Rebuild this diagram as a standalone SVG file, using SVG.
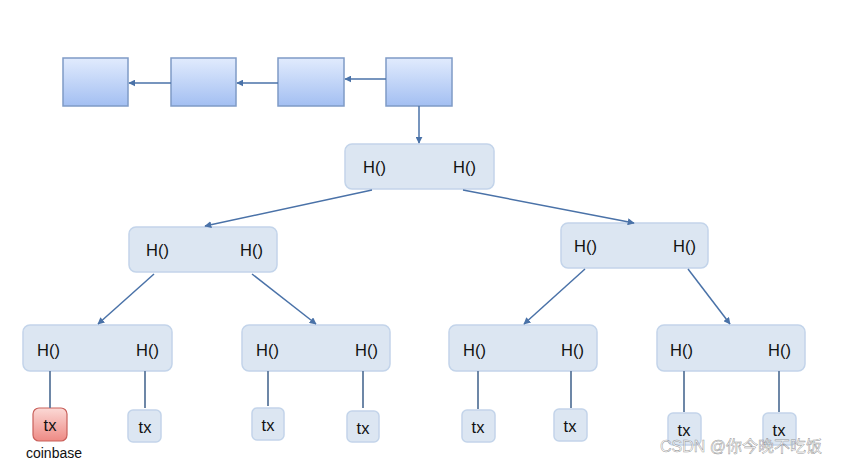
<svg xmlns="http://www.w3.org/2000/svg" width="846" height="467" viewBox="0 0 846 467">
<defs>
<linearGradient id="blk" x1="0" y1="0" x2="0" y2="1">
<stop offset="0" stop-color="#e1ebfd"/>
<stop offset="1" stop-color="#a3bff2"/>
</linearGradient>
<linearGradient id="red" x1="0" y1="0" x2="0" y2="1">
<stop offset="0" stop-color="#fbd9d6"/>
<stop offset="1" stop-color="#ee8a84"/>
</linearGradient>
<marker id="ah" viewBox="0 0 10 10" refX="9" refY="5" markerWidth="7" markerHeight="7" markerUnits="userSpaceOnUse" orient="auto">
<path d="M0,0 L10,5 L0,10 z" fill="#4a72a8"/>
</marker>
<style>
.blk{fill:url(#blk);stroke:#7f9bc6;stroke-width:1.5}
.nd{fill:#dce6f2;stroke:#c3d4ea;stroke-width:1.5}
.tx{fill:#dce6f2;stroke:#c3d4ea;stroke-width:1.5}
.cb{fill:url(#red);stroke:#c9605b;stroke-width:1.2}
.t{font-family:"Liberation Sans",Arial,sans-serif;font-size:16.5px;fill:#111}
.c{stroke:#4a72a8;stroke-width:1.5;fill:none}
.l{stroke:#5e7a9e;stroke-width:1.8;fill:none}
</style>
</defs>
<g id="block1"><rect class="blk" x="63" y="58" width="65" height="48"/></g>
<g id="block2"><rect class="blk" x="171" y="58" width="65" height="48"/></g>
<g id="block3"><rect class="blk" x="278" y="58" width="66" height="48"/></g>
<g id="block4"><rect class="blk" x="386" y="58" width="66" height="48"/></g>
<g id="root"><rect class="nd" x="345" y="144" width="149" height="45" rx="7"/><text class="t" x="363" y="173">H()</text><text class="t" x="453" y="173">H()</text></g>
<g id="l2left"><rect class="nd" x="129" y="227" width="148" height="45" rx="7"/><text class="t" x="146" y="256">H()</text><text class="t" x="240" y="256">H()</text></g>
<g id="l2right"><rect class="nd" x="561" y="223" width="147" height="45" rx="7"/><text class="t" x="574" y="252">H()</text><text class="t" x="673" y="252">H()</text></g>
<g id="l3a"><rect class="nd" x="23" y="325" width="149" height="46" rx="7"/><text class="t" x="37" y="356">H()</text><text class="t" x="136" y="356">H()</text></g>
<g id="l3b"><rect class="nd" x="242" y="325" width="148" height="46" rx="7"/><text class="t" x="256" y="356">H()</text><text class="t" x="355" y="356">H()</text></g>
<g id="l3c"><rect class="nd" x="449" y="325" width="148" height="46" rx="7"/><text class="t" x="463" y="356">H()</text><text class="t" x="561" y="356">H()</text></g>
<g id="l3d"><rect class="nd" x="657" y="325" width="148" height="46" rx="7"/><text class="t" x="670" y="356">H()</text><text class="t" x="768" y="356">H()</text></g>
<g id="tx1"><rect class="cb" x="33" y="408" width="34" height="33" rx="6"/><text class="t" x="50" y="431" text-anchor="middle">tx</text><text x="54" y="458" text-anchor="middle" font-family="Liberation Sans,Arial,sans-serif" font-size="14" fill="#111">coinbase</text></g>
<g id="tx2"><rect class="tx" x="128" y="410" width="33" height="32" rx="5"/><text class="t" x="145" y="433" text-anchor="middle">tx</text></g>
<g id="tx3"><rect class="tx" x="252" y="408" width="32" height="32" rx="5"/><text class="t" x="268" y="431" text-anchor="middle">tx</text></g>
<g id="tx4"><rect class="tx" x="347" y="411" width="32" height="31" rx="5"/><text class="t" x="363" y="434" text-anchor="middle">tx</text></g>
<g id="tx5"><rect class="tx" x="462" y="410" width="33" height="32" rx="5"/><text class="t" x="478" y="433" text-anchor="middle">tx</text></g>
<g id="tx6"><rect class="tx" x="554" y="409" width="33" height="32" rx="5"/><text class="t" x="570" y="432" text-anchor="middle">tx</text></g>
<g id="tx7"><rect class="tx" x="668" y="413" width="33" height="32" rx="5"/><text class="t" x="684" y="436" text-anchor="middle">tx</text></g>
<g id="tx8"><rect class="tx" x="763" y="413" width="33" height="32" rx="5"/><text class="t" x="779" y="436" text-anchor="middle">tx</text></g>
<g id="connectors">
<line class="c" x1="386" y1="79" x2="345" y2="79" marker-end="url(#ah)"/>
<line class="c" x1="278" y1="83" x2="237" y2="83" marker-end="url(#ah)"/>
<line class="c" x1="171" y1="83" x2="129" y2="83" marker-end="url(#ah)"/>
<line class="c" x1="419" y1="106" x2="419" y2="143" marker-end="url(#ah)"/>
<line class="c" x1="372" y1="190" x2="205" y2="226" marker-end="url(#ah)"/>
<line class="c" x1="463" y1="190" x2="634" y2="223" marker-end="url(#ah)"/>
<line class="c" x1="154" y1="274" x2="98" y2="324" marker-end="url(#ah)"/>
<line class="c" x1="252" y1="274" x2="316" y2="324" marker-end="url(#ah)"/>
<line class="c" x1="585" y1="269" x2="524" y2="324" marker-end="url(#ah)"/>
<line class="c" x1="688" y1="269" x2="730" y2="324" marker-end="url(#ah)"/>
<line class="l" x1="50" y1="371" x2="50" y2="408"/>
<line class="l" x1="145" y1="371" x2="145" y2="408"/>
<line class="l" x1="268" y1="371" x2="268" y2="406"/>
<line class="l" x1="363" y1="371" x2="363" y2="408"/>
<line class="l" x1="478" y1="371" x2="478" y2="409"/>
<line class="l" x1="571" y1="371" x2="571" y2="408"/>
<line class="l" x1="684" y1="371" x2="684" y2="412"/>
<line class="l" x1="779" y1="371" x2="779" y2="412"/>
</g>
<text x="660" y="452" font-family="Liberation Sans,Noto Sans CJK SC,sans-serif" font-size="16" fill="#ffffff" fill-opacity="0.7" stroke="#666" stroke-width="0.5" stroke-opacity="0.7">CSDN @你今晚不吃饭</text>
</svg>
